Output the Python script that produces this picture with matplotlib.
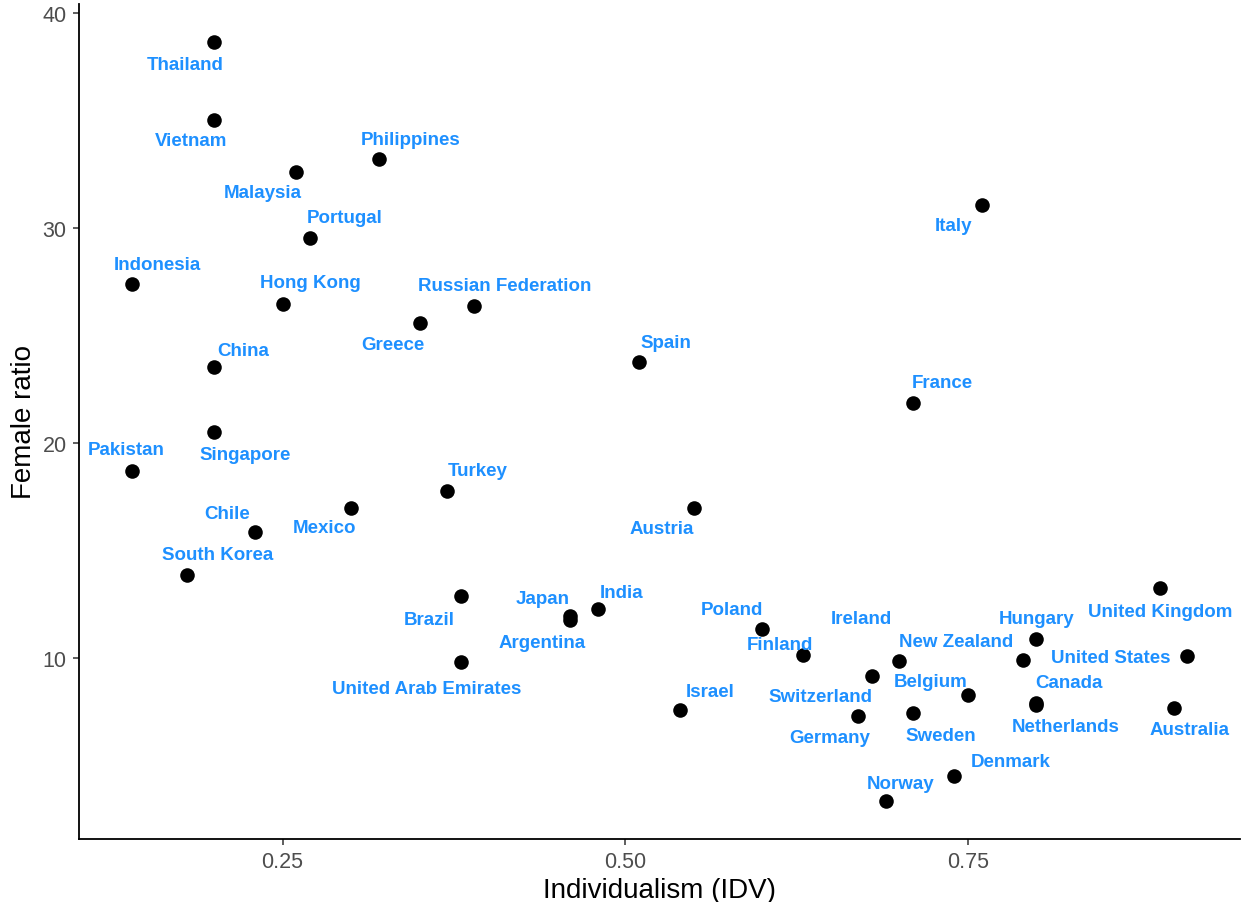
import matplotlib
matplotlib.use("Agg")
import matplotlib.pyplot as plt
from matplotlib.ticker import FixedLocator, FormatStrFormatter

plt.rcParams['font.family'] = ['Liberation Sans', 'DejaVu Sans']

countries = ["Thailand", "Vietnam", "Malaysia", "Philippines", "Portugal", "Indonesia",
             "Hong Kong", "Greece", "Russian Federation", "China", "Spain", "Italy",
             "France", "Singapore", "Pakistan", "Turkey", "Mexico", "Austria", "Chile",
             "South Korea", "Brazil", "Japan", "Argentina", "India", "United Arab Emirates",
             "Israel", "Poland", "Finland", "Ireland", "Switzerland", "New Zealand",
             "Belgium", "Germany", "Sweden", "Denmark", "Norway", "Hungary", "Canada",
             "Netherlands", "United Kingdom", "United States", "Australia"]

idv = [0.20, 0.20, 0.26, 0.32, 0.27, 0.14,
       0.25, 0.35, 0.39, 0.20, 0.51, 0.76,
       0.71, 0.20, 0.14, 0.37, 0.30, 0.55, 0.23,
       0.18, 0.38, 0.46, 0.46, 0.48, 0.38,
       0.54, 0.60, 0.63, 0.70, 0.68, 0.79,
       0.75, 0.67, 0.71, 0.74, 0.69, 0.80, 0.80,
       0.80, 0.89, 0.91, 0.90]

female_ratio = [38.65, 35.02, 32.60, 33.21, 29.53, 27.40,
                26.47, 25.58, 26.37, 23.53, 23.77, 31.07,
                21.86, 20.51, 18.70, 17.77, 16.98, 16.98, 15.86,
                13.86, 12.88, 11.95, 11.77, 12.28, 9.81,
                7.58, 11.35, 10.14, 9.86, 9.16, 9.91,
                8.28, 7.30, 7.44, 4.51, 3.35, 10.88, 7.91,
                7.81, 13.26, 10.09, 7.67]

x_ticks = [0.25, 0.50, 0.75]
y_ticks = [10, 20, 30, 40]

# label offsets in pixels (dx, dy up), layout only
label_offsets = {
    "Thailand": (-29, -23), "Vietnam": (-23, -20), "Malaysia": (-34, -20),
    "Philippines": (32, 19), "Portugal": (35, 21), "Indonesia": (26, 19),
    "Hong Kong": (28, 21), "Greece": (-27, -21), "Russian Federation": (30, 21),
    "China": (29, 17), "Spain": (27, 19), "Italy": (-28, -21), "France": (29, 21),
    "Singapore": (31, -22), "Pakistan": (-6, 21), "Turkey": (31, 20),
    "Mexico": (-27, -20), "Austria": (-32, -21), "Chile": (-28, 19),
    "South Korea": (31, 21), "Brazil": (-31, -23), "Japan": (-28, 18),
    "Argentina": (-28, -23), "India": (24, 17), "United Arab Emirates": (-34, -26),
    "Israel": (30, 19), "Poland": (-30, 20), "Finland": (-23, 11),
    "Ireland": (-38, 43), "Switzerland": (-51, -20), "New Zealand": (-67, 18),
    "Belgium": (-37, 14), "Germany": (-29, -21), "Sweden": (28, -22),
    "Denmark": (56, 15), "Norway": (15, 18), "Hungary": (0, 21),
    "Canada": (32, 20), "Netherlands": (29, -21), "United Kingdom": (0, -24),
    "United States": (-76, -1), "Australia": (16, -21),
}

fig = plt.figure(figsize=(12.45, 9.03), dpi=100)
ax = fig.add_axes([79/1245, 63/903, (1240-79)/1245, (840-5)/903])

ax.scatter(idv, female_ratio, s=110, color='black', zorder=3, linewidths=0)
ax.margins(x=0.05, y=0.05)

for name, x, y in zip(countries, idv, female_ratio):
    dx, dy = label_offsets[name]
    ax.annotate(name, (x, y), xytext=(dx * 0.72, dy * 0.72), textcoords='offset points',
                ha='center', va='center', color='#1E90FF', fontsize=13.5,
                fontweight='bold', zorder=4)

ax.xaxis.set_major_locator(FixedLocator(x_ticks))
ax.xaxis.set_major_formatter(FormatStrFormatter('%.2f'))
ax.yaxis.set_major_locator(FixedLocator(y_ticks))

for s in ['top', 'right']:
    ax.spines[s].set_visible(False)
for s in ['left', 'bottom']:
    ax.spines[s].set_linewidth(1.3)
    ax.spines[s].set_color('black')

ax.tick_params(axis='both', length=4, width=1.1, color='#333333',
               labelsize=15.5, labelcolor='#4D4D4D', pad=5)

ax.set_xlabel("Individualism (IDV)", fontsize=20, labelpad=3)
ax.set_ylabel("Female ratio", fontsize=20, labelpad=4)

fig.savefig("out.png", dpi=100)
